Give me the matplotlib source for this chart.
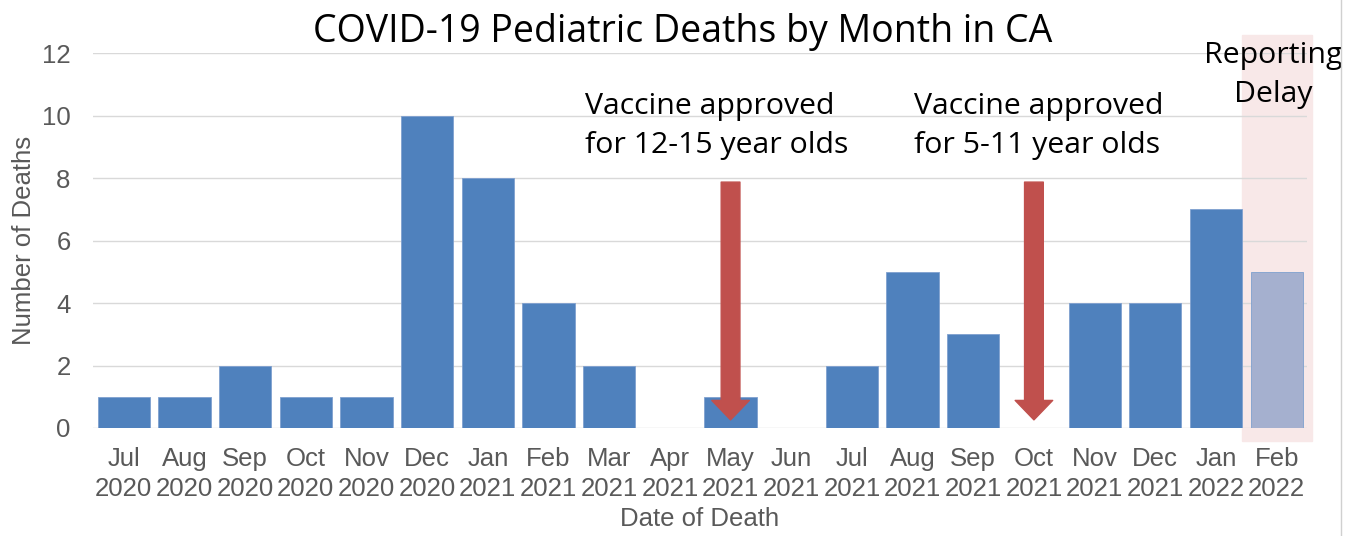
import matplotlib.pyplot as plt
from matplotlib.patches import FancyArrowPatch, Rectangle
from matplotlib.lines import Line2D

months = ["Jul\n2020", "Aug\n2020", "Sep\n2020", "Oct\n2020", "Nov\n2020", "Dec\n2020",
          "Jan\n2021", "Feb\n2021", "Mar\n2021", "Apr\n2021", "May\n2021", "Jun\n2021",
          "Jul\n2021", "Aug\n2021", "Sep\n2021", "Oct\n2021", "Nov\n2021", "Dec\n2021",
          "Jan\n2022", "Feb\n2022"]
deaths = [1, 1, 2, 1, 1, 10, 8, 4, 2, 0, 1, 0, 2, 5, 3, 0, 4, 4, 7, 5]
delayed = [False] * 19 + [True]

vaccine_months = [10, 15]
vaccine_labels = ["Vaccine approved\nfor 12-15 year olds", "Vaccine approved\nfor 5-11 year olds"]
label_x = [7.6, 13.03]

gray = "#595959"
fig = plt.figure(figsize=(13.46, 5.36), dpi=100)
ax = fig.add_axes([0.069, 0.2015, 0.902, 0.6995])

x = list(range(len(months)))
colors = ["#a5b0cf" if d else "#4f81bd" for d in delayed]
ax.bar(x, deaths, width=0.86, color=colors, edgecolor="#7fa0cf", linewidth=0.6, zorder=3)

# reporting delay shading, extends past the axes
ax.add_patch(Rectangle((18.43, -0.42), 1.16, 13.0, color="#f8e8e8", zorder=0, clip_on=False))

ax.set_xlim(-0.51, 19.5)
ax.set_ylim(0, 12)
ax.set_yticks(range(0, 13, 2))
ax.set_xticks(x)
ax.set_xticklabels(months, fontsize=18.5, color=gray, family="Liberation Sans", linespacing=1.3)
ax.tick_params(axis="y", labelsize=18.5, labelcolor=gray, length=0, pad=16)
ax.tick_params(axis="x", length=0, pad=14)
for lab in ax.get_yticklabels():
    lab.set_family("Liberation Sans")
ax.grid(axis="y", color="#d9d9d9", linewidth=1, zorder=1)
for s in ax.spines.values():
    s.set_visible(False)

ax.set_ylabel("Number of Deaths", fontsize=18.5, color=gray, family="Liberation Sans", labelpad=4)
ax.set_xlabel("Date of Death", fontsize=18.5, color=gray, family="Liberation Sans", labelpad=4)

for m, lab, lx in zip(vaccine_months, vaccine_labels, label_x):
    arrow = FancyArrowPatch((m, 7.87), (m, 0.26), arrowstyle="simple,head_length=14,head_width=27,tail_width=13.5",
                            mutation_scale=1, shrinkA=0, shrinkB=0, color="#c0504d", zorder=4)
    ax.add_patch(arrow)
    ax.text(lx, 9.66, lab, fontsize=21.8, family="Open Sans", ha="left", va="center",
            linespacing=1.45, color="black")

ax.text(18.95, 11.3, "Reporting\nDelay", fontsize=21.8, family="Open Sans", ha="center", va="center",
        linespacing=1.45, color="black")

fig.text(0.5075, 0.94, "COVID-19 Pediatric Deaths by Month in CA", fontsize=27, family="Open Sans",
         ha="center", va="center", color="black")

fig.add_artist(Line2D([0.996, 0.996], [0.0, 1.0], color="#d0d0d0", linewidth=1))

fig.savefig("out.png", dpi=100)
